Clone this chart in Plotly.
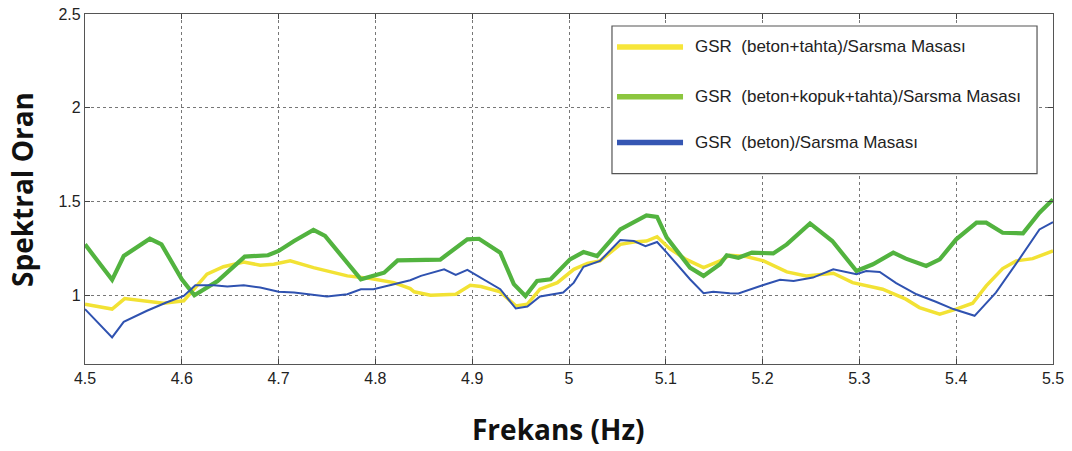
import plotly.graph_objects as go

# Frequency (Hz) and spectral ratio for each configuration
freq_yellow = [4.500, 4.528, 4.541, 4.564, 4.581, 4.602, 4.612, 4.626, 4.643, 4.664, 4.681, 4.695,
               4.712, 4.736, 4.771, 4.795, 4.819, 4.836, 4.840, 4.857, 4.883, 4.898, 4.909, 4.929,
               4.945, 4.957, 4.970, 4.988, 5.005, 5.019, 5.032, 5.053, 5.067, 5.080, 5.091, 5.104,
               5.121, 5.139, 5.156, 5.166, 5.183, 5.201, 5.225, 5.245, 5.273, 5.293, 5.324, 5.348,
               5.362, 5.383, 5.400, 5.417, 5.431, 5.448, 5.462, 5.479, 5.500]
ratio_yellow = [0.952, 0.926, 0.982, 0.970, 0.957, 0.970, 1.032, 1.112, 1.152, 1.177, 1.160, 1.165,
                1.183, 1.147, 1.103, 1.089, 1.067, 1.035, 1.018, 1.000, 1.005, 1.053, 1.046, 1.018,
                0.943, 0.952, 1.032, 1.067, 1.138, 1.170, 1.183, 1.271, 1.284, 1.289, 1.312, 1.248,
                1.191, 1.147, 1.183, 1.213, 1.206, 1.183, 1.124, 1.103, 1.117, 1.067, 1.032, 0.979,
                0.934, 0.899, 0.926, 0.957, 1.050, 1.142, 1.183, 1.195, 1.236]

freq_green = [4.500, 4.528, 4.540, 4.567, 4.579, 4.600, 4.613, 4.637, 4.665, 4.689, 4.700, 4.716,
              4.736, 4.748, 4.785, 4.809, 4.823, 4.837, 4.867, 4.895, 4.907, 4.929, 4.943, 4.955,
              4.967, 4.981, 5.001, 5.015, 5.029, 5.053, 5.080, 5.091, 5.101, 5.125, 5.139, 5.156,
              5.163, 5.175, 5.189, 5.211, 5.225, 5.249, 5.272, 5.297, 5.314, 5.335, 5.348, 5.369,
              5.383, 5.400, 5.421, 5.431, 5.448, 5.469, 5.486, 5.500]
ratio_green = [1.271, 1.082, 1.209, 1.301, 1.271, 1.085, 1.000, 1.076, 1.206, 1.213, 1.236, 1.289,
               1.348, 1.316, 1.085, 1.120, 1.186, 1.186, 1.190, 1.298, 1.301, 1.227, 1.059, 0.996,
               1.076, 1.085, 1.191, 1.230, 1.209, 1.351, 1.426, 1.418, 1.307, 1.147, 1.103, 1.165,
               1.213, 1.200, 1.227, 1.223, 1.271, 1.383, 1.289, 1.129, 1.165, 1.227, 1.195, 1.156,
               1.191, 1.298, 1.387, 1.387, 1.333, 1.330, 1.440, 1.511]

freq_blue = [4.500, 4.528, 4.540, 4.564, 4.584, 4.602, 4.614, 4.633, 4.647, 4.664, 4.681, 4.700,
             4.716, 4.750, 4.771, 4.785, 4.798, 4.819, 4.836, 4.847, 4.871, 4.883, 4.895, 4.929,
             4.945, 4.957, 4.970, 4.994, 5.005, 5.015, 5.032, 5.053, 5.067, 5.079, 5.091, 5.101,
             5.125, 5.139, 5.149, 5.166, 5.175, 5.200, 5.218, 5.232, 5.252, 5.273, 5.297, 5.307,
             5.321, 5.338, 5.359, 5.379, 5.397, 5.419, 5.441, 5.465, 5.486, 5.500]
ratio_blue = [0.926, 0.775, 0.858, 0.917, 0.961, 0.996, 1.053, 1.053, 1.046, 1.053, 1.041, 1.018,
              1.014, 0.993, 1.005, 1.032, 1.032, 1.059, 1.080, 1.103, 1.138, 1.108, 1.135, 1.032,
              0.929, 0.940, 0.993, 1.014, 1.067, 1.152, 1.183, 1.294, 1.289, 1.262, 1.284, 1.227,
              1.085, 1.011, 1.018, 1.011, 1.009, 1.053, 1.082, 1.076, 1.094, 1.138, 1.112, 1.129,
              1.124, 1.064, 1.005, 0.965, 0.926, 0.890, 1.014, 1.191, 1.351, 1.390]

legend_labels = ["GSR  (beton+tahta)/Sarsma Masası",
                 "GSR  (beton+kopuk+tahta)/Sarsma Masası",
                 "GSR  (beton)/Sarsma Masası"]

x_ticks = [4.5, 4.6, 4.7, 4.8, 4.9, 5.0, 5.1, 5.2, 5.3, 5.4, 5.5]
x_ticklabels = ["4.5", "4.6", "4.7", "4.8", "4.9", "5", "5.1", "5.2", "5.3", "5.4", "5.5"]
y_ticks = [1.0, 1.5, 2.0, 2.5]
y_ticklabels = ["1", "1.5", "2", "2.5"]

line_colors = ["#f2e234", "#52b33f", "#2f52b0"]
legend_colors = ["#f7e63a", "#8cc63f", "#3556b3"]
line_widths = [3.5, 4.2, 2.0]

fig = go.Figure()
series = [(freq_yellow, ratio_yellow), (freq_green, ratio_green), (freq_blue, ratio_blue)]
for (fx, fy), col, w, name in zip(series, line_colors, line_widths, legend_labels):
    fig.add_trace(go.Scatter(x=fx, y=fy, mode="lines", name=name,
                             line=dict(color=col, width=w), showlegend=False))

tick_font = dict(family="Liberation Sans Narrow, Arial Narrow, Arial, sans-serif", size=16, color="#222")
axis_common = dict(showline=True, linecolor="#555", linewidth=1.2, mirror="ticks",
                   ticks="inside", ticklen=5, tickcolor="#444", automargin=False,
                   showgrid=True, gridcolor="#777", griddash="dot", gridwidth=1,
                   zeroline=False, tickfont=tick_font)

fig.update_xaxes(range=[4.5, 5.5], tickvals=x_ticks, ticktext=x_ticklabels, **axis_common)
fig.update_yaxes(range=[0.633, 2.5], tickvals=y_ticks, ticktext=y_ticklabels, **axis_common)

title_font = dict(family="Open Sans, sans-serif", size=28, color="#111", weight="bold")
annotations = [
    dict(xref="paper", yref="paper", x=(558 - 85) / 968, y=-(429 - 364) / 350,
         text="Frekans (Hz)", showarrow=False, xanchor="center", yanchor="middle", font=title_font),
    dict(xref="paper", yref="paper", x=-(85 - 22) / 968, y=(364 - 190) / 350,
         text="Spektral Oran", showarrow=False, textangle=-90,
         xanchor="center", yanchor="middle", font=title_font),
]

# Hand-built legend box in the upper right
shapes = [dict(type="rect", xref="x", yref="y", x0=5.0444, x1=5.4835, y0=1.649, y1=2.436,
               line=dict(color="#555", width=1.2), fillcolor="white", layer="above")]
legend_y = [2.324, 2.059, 1.814]
for ly, col, lab in zip(legend_y, legend_colors, legend_labels):
    shapes.append(dict(type="line", xref="x", yref="y", x0=5.0496, x1=5.1178, y0=ly, y1=ly,
                       line=dict(color=col, width=5.5), layer="above"))
    annotations.append(dict(xref="x", yref="y", x=5.128, y=ly, text=lab, showarrow=False,
                            xanchor="left", yanchor="middle",
                            font=dict(family="Liberation Sans, Arial, sans-serif", size=17, color="#222")))

fig.update_layout(width=1072, height=451,
                  margin=dict(l=85, r=19, t=14, b=87),
                  paper_bgcolor="white", plot_bgcolor="white",
                  shapes=shapes, annotations=annotations)

fig.write_html("out.html")
